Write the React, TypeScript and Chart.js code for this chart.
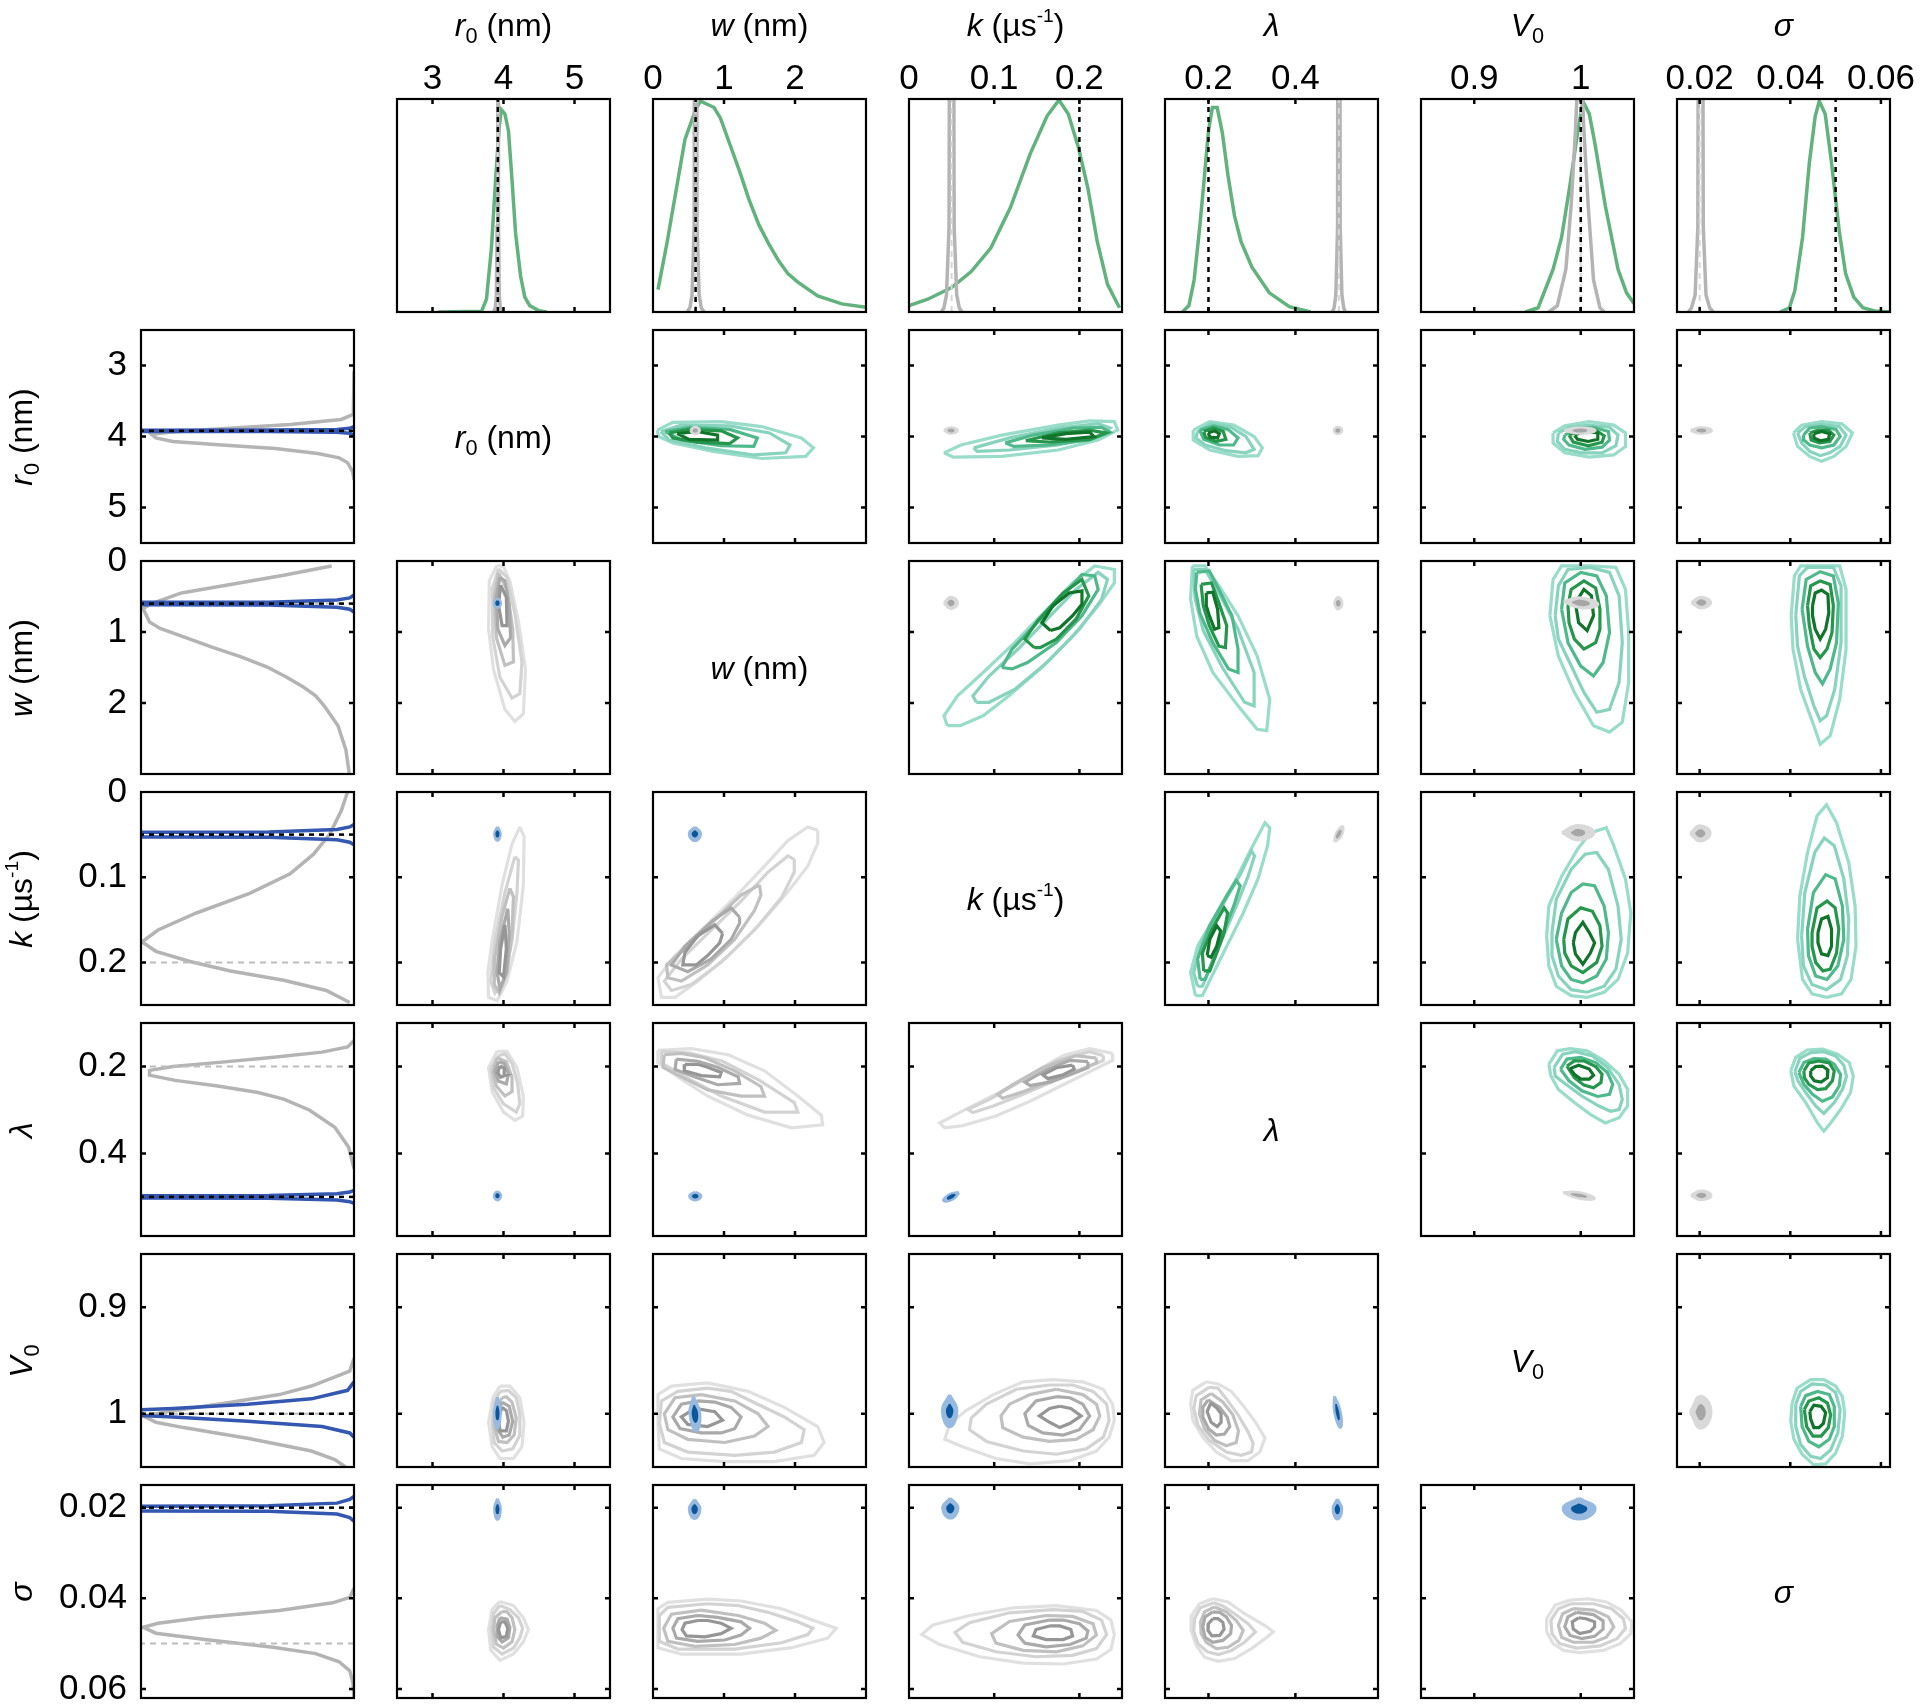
import React, { useEffect, useMemo, useRef } from 'react';
import { Chart, registerables } from 'chart.js';

Chart.register(...registerables);

type Pt = [number, number];

const FONT = "'Liberation Sans', Arial, Helvetica, sans-serif";

/* ---------------- axes ---------------- */
const AXIS_MIN = [2.5, 0, 0, 0.1, 0.85, 0.015];
const AXIS_MAX = [5.5, 3, 0.25, 0.59, 1.05, 0.062];
const TICK_VALUES = [[3, 4, 5], [0, 1, 2], [0, 0.1, 0.2], [0.2, 0.4], [0.9, 1], [0.02, 0.04, 0.06]];
const TICK_LABELS = [['3', '4', '5'], ['0', '1', '2'], ['0', '0.1', '0.2'], ['0.2', '0.4'], ['0.9', '1'], ['0.02', '0.04', '0.06']];

/* true values marked by dotted / dashed lines */
const TRUE_GREEN = [3.92, 0.6, 0.2, 0.2, 1.0, 0.05];
const TRUE_BLUE = [3.92, 0.6, 0.05, 0.5, 1.0, 0.02];

/* ---------------- 1D marginals: [value, density] ---------------- */
const MARG_WIDE_R0: Pt[] = [[3.08, 0], [3.69, 0.003], [3.76, 0.06], [3.83, 0.3], [3.9, 0.68], [3.94, 0.87], [3.97, 0.95], [4.02, 0.93], [4.07, 0.85], [4.12, 0.62], [4.17, 0.37], [4.24, 0.17], [4.3, 0.07], [4.37, 0.03], [4.5, 0.006], [4.61, 0]];
const MARG_WIDE_W: Pt[] = [[0.07, 0.105], [0.2, 0.33], [0.33, 0.58], [0.45, 0.81], [0.6, 0.95], [0.67, 0.99], [0.86, 0.96], [0.95, 0.91], [1.08, 0.79], [1.22, 0.66], [1.35, 0.53], [1.49, 0.41], [1.63, 0.32], [1.77, 0.24], [1.9, 0.18], [2.04, 0.14], [2.32, 0.075], [2.66, 0.038], [3.0, 0.022]];
const MARG_WIDE_K: Pt[] = [[0, 0.03], [0.022, 0.06], [0.05, 0.115], [0.073, 0.19], [0.096, 0.3], [0.119, 0.49], [0.142, 0.74], [0.162, 0.92], [0.176, 0.995], [0.187, 0.93], [0.199, 0.77], [0.21, 0.58], [0.221, 0.33], [0.233, 0.13], [0.247, 0.02]];
const MARG_WIDE_L: Pt[] = [[0.14, 0], [0.155, 0.03], [0.167, 0.15], [0.18, 0.4], [0.19, 0.62], [0.2, 0.85], [0.209, 0.96], [0.22, 0.96], [0.232, 0.84], [0.245, 0.64], [0.26, 0.45], [0.275, 0.33], [0.3, 0.21], [0.34, 0.09], [0.386, 0.025], [0.435, 0]];
const MARG_WIDE_V: Pt[] = [[0.948, 0], [0.96, 0.02], [0.974, 0.2], [0.982, 0.35], [0.99, 0.6], [0.997, 0.84], [1.002, 0.99], [1.008, 0.93], [1.013, 0.8], [1.023, 0.5], [1.035, 0.2], [1.043, 0.09], [1.05, 0.04]];
const MARG_WIDE_S: Pt[] = [[0.0378, 0], [0.0398, 0.02], [0.041, 0.1], [0.0427, 0.35], [0.0442, 0.7], [0.0455, 0.92], [0.0464, 0.99], [0.0477, 0.93], [0.0491, 0.7], [0.0508, 0.38], [0.0522, 0.18], [0.054, 0.07], [0.056, 0.02], [0.0586, 0.005], [0.062, 0]];

const MARG_NARROW_R0: Pt[] = [[3.86, 0], [3.885, 0.02], [3.9, 0.08], [3.91, 0.4], [3.92, 6], [3.93, 0.4], [3.94, 0.08], [3.955, 0.02], [3.98, 0]];
const MARG_NARROW_W: Pt[] = [[0.48, 0], [0.52, 0.02], [0.55, 0.08], [0.58, 0.4], [0.6, 6], [0.62, 0.4], [0.65, 0.08], [0.68, 0.02], [0.72, 0]];
const MARG_NARROW_K: Pt[] = [[0.038, 0], [0.041, 0.02], [0.044, 0.08], [0.047, 0.4], [0.05, 6], [0.053, 0.4], [0.056, 0.08], [0.059, 0.02], [0.062, 0]];
const MARG_NARROW_L: Pt[] = [[0.485, 0], [0.489, 0.02], [0.493, 0.08], [0.497, 0.4], [0.5, 6], [0.503, 0.4], [0.507, 0.08], [0.511, 0.02], [0.515, 0]];
const MARG_NARROW_V: Pt[] = [[0.97, 0], [0.978, 0.03], [0.986, 0.2], [0.991, 0.5], [0.995, 0.85], [0.999, 1.3], [1.003, 0.85], [1.007, 0.5], [1.012, 0.15], [1.018, 0.02], [1.022, 0]];
const MARG_NARROW_S: Pt[] = [[0.0175, 0], [0.0182, 0.02], [0.019, 0.08], [0.0196, 0.4], [0.0202, 6], [0.0208, 0.4], [0.0214, 0.08], [0.0222, 0.02], [0.023, 0]];

const MARG_WIDE = [MARG_WIDE_R0, MARG_WIDE_W, MARG_WIDE_K, MARG_WIDE_L, MARG_WIDE_V, MARG_WIDE_S];
const MARG_NARROW = [MARG_NARROW_R0, MARG_NARROW_W, MARG_NARROW_K, MARG_NARROW_L, MARG_NARROW_V, MARG_NARROW_S];

/* ---------------- 2D contours of the wide posterior: [colParam, rowParam], outer -> inner ---------------- */
const WIDE_R0_W: Pt[][] = [
  [[0.06, 3.91], [0.28, 3.8], [0.96, 3.79], [1.53, 3.86], [2.09, 4.02], [2.26, 4.16], [2.15, 4.28], [1.53, 4.31], [0.85, 4.21], [0.28, 4.09], [0.08, 4.0]],
  [[0.11, 3.93], [0.4, 3.84], [1.08, 3.85], [1.64, 3.95], [1.93, 4.12], [1.87, 4.23], [1.42, 4.26], [0.74, 4.16], [0.23, 4.05]],
  [[0.17, 3.93], [0.51, 3.87], [1.08, 3.9], [1.47, 4.02], [1.42, 4.14], [0.96, 4.13], [0.4, 4.05]],
  [[0.23, 3.95], [0.51, 3.9], [0.96, 3.92], [1.19, 4.02], [1.08, 4.1], [0.62, 4.08], [0.28, 4.02]],
  [[0.34, 3.96], [0.62, 3.93], [0.91, 3.98], [0.91, 4.05], [0.51, 4.04]],
];
const WIDE_R0_K: Pt[][] = [
  [[0.041, 4.23], [0.061, 4.12], [0.109, 3.98], [0.175, 3.84], [0.212, 3.78], [0.241, 3.79], [0.245, 3.91], [0.222, 4.05], [0.175, 4.19], [0.109, 4.28], [0.052, 4.29]],
  [[0.076, 4.16], [0.118, 4.02], [0.175, 3.88], [0.222, 3.82], [0.236, 3.88], [0.222, 4.0], [0.175, 4.12], [0.118, 4.19], [0.08, 4.21]],
  [[0.113, 4.09], [0.146, 3.98], [0.193, 3.88], [0.226, 3.87], [0.236, 3.94], [0.212, 4.05], [0.165, 4.12], [0.123, 4.14]],
  [[0.137, 4.06], [0.175, 3.95], [0.212, 3.91], [0.231, 3.95], [0.212, 4.04], [0.165, 4.08]],
  [[0.156, 4.02], [0.184, 3.96], [0.212, 3.94], [0.217, 4.0], [0.184, 4.04]],
];
const WIDE_R0_L: Pt[][] = [
  [[0.165, 3.91], [0.203, 3.79], [0.258, 3.84], [0.305, 4.0], [0.324, 4.16], [0.314, 4.27], [0.268, 4.28], [0.203, 4.19], [0.165, 4.05]],
  [[0.175, 3.93], [0.206, 3.82], [0.249, 3.86], [0.286, 4.0], [0.305, 4.18], [0.286, 4.23], [0.24, 4.2], [0.193, 4.12], [0.171, 4.02]],
  [[0.18, 3.91], [0.212, 3.85], [0.245, 3.9], [0.268, 4.02], [0.258, 4.12], [0.225, 4.12], [0.189, 4.04]],
  [[0.189, 3.93], [0.212, 3.88], [0.234, 3.93], [0.24, 4.04], [0.217, 4.07], [0.193, 4.01]],
  [[0.199, 3.95], [0.214, 3.92], [0.225, 3.96], [0.221, 4.02], [0.204, 4.01]],
];
const WIDE_R0_V: Pt[][] = [
  [[0.974, 3.95], [0.985, 3.85], [1.008, 3.79], [1.031, 3.84], [1.042, 3.95], [1.042, 4.14], [1.031, 4.26], [1.008, 4.29], [0.985, 4.23], [0.974, 4.09]],
  [[0.979, 3.95], [0.989, 3.87], [1.008, 3.84], [1.027, 3.87], [1.035, 3.98], [1.033, 4.13], [1.02, 4.23], [1.001, 4.23], [0.985, 4.18], [0.978, 4.07]],
  [[0.985, 3.98], [0.997, 3.88], [1.012, 3.87], [1.026, 3.93], [1.027, 4.05], [1.02, 4.15], [1.004, 4.18], [0.989, 4.12], [0.984, 4.04]],
  [[0.989, 3.98], [1.001, 3.91], [1.014, 3.91], [1.022, 3.99], [1.02, 4.08], [1.007, 4.13], [0.993, 4.08]],
  [[0.994, 3.98], [1.004, 3.93], [1.016, 3.95], [1.016, 4.04], [1.007, 4.07], [0.997, 4.04]],
];
const WIDE_R0_S: Pt[][] = [
  [[0.0407, 3.95], [0.0425, 3.84], [0.0469, 3.79], [0.0514, 3.82], [0.0537, 3.95], [0.0523, 4.14], [0.0496, 4.28], [0.0469, 4.35], [0.0443, 4.28], [0.0416, 4.14]],
  [[0.0416, 3.95], [0.0434, 3.86], [0.0469, 3.83], [0.0508, 3.86], [0.0523, 3.98], [0.051, 4.14], [0.0487, 4.23], [0.0466, 4.27], [0.0443, 4.21], [0.0425, 4.09]],
  [[0.0429, 3.98], [0.0443, 3.88], [0.0469, 3.86], [0.0501, 3.9], [0.051, 4.0], [0.0496, 4.12], [0.0469, 4.16], [0.0443, 4.12], [0.043, 4.05]],
  [[0.0443, 3.95], [0.0461, 3.91], [0.0484, 3.91], [0.0496, 3.98], [0.0487, 4.07], [0.0464, 4.09], [0.0446, 4.05]],
  [[0.0452, 3.96], [0.0469, 3.93], [0.0487, 3.96], [0.0484, 4.04], [0.0466, 4.06], [0.0452, 4.02]],
];
const WIDE_W_K: Pt[][] = [
  [[0.045, 2.32], [0.041, 2.18], [0.057, 1.9], [0.087, 1.57], [0.124, 1.15], [0.162, 0.68], [0.192, 0.31], [0.218, 0.07], [0.241, 0.12], [0.241, 0.31], [0.222, 0.63], [0.192, 1.06], [0.154, 1.52], [0.117, 1.9], [0.087, 2.18], [0.06, 2.32]],
  [[0.079, 1.99], [0.075, 1.9], [0.094, 1.62], [0.128, 1.24], [0.162, 0.82], [0.196, 0.4], [0.222, 0.16], [0.233, 0.26], [0.226, 0.54], [0.2, 0.96], [0.162, 1.43], [0.124, 1.81], [0.094, 1.99]],
  [[0.109, 1.5], [0.121, 1.24], [0.147, 0.91], [0.177, 0.54], [0.203, 0.19], [0.218, 0.21], [0.222, 0.4], [0.203, 0.77], [0.173, 1.15], [0.139, 1.43], [0.121, 1.52]],
  [[0.147, 1.22], [0.136, 1.1], [0.151, 0.84], [0.181, 0.45], [0.203, 0.26], [0.211, 0.49], [0.196, 0.82], [0.173, 1.1], [0.154, 1.22]],
  [[0.166, 0.98], [0.156, 0.87], [0.169, 0.63], [0.188, 0.45], [0.203, 0.42], [0.203, 0.61], [0.192, 0.77], [0.177, 0.94]],
];
const WIDE_W_L: Pt[][] = [
  [[0.163, 0.07], [0.192, 0.07], [0.224, 0.35], [0.268, 0.77], [0.312, 1.34], [0.341, 1.95], [0.334, 2.39], [0.312, 2.37], [0.268, 2.04], [0.21, 1.57], [0.173, 1.06], [0.159, 0.54]],
  [[0.166, 0.12], [0.192, 0.12], [0.224, 0.45], [0.268, 0.96], [0.305, 1.57], [0.305, 2.04], [0.283, 1.99], [0.232, 1.5], [0.188, 0.98], [0.169, 0.52]],
  [[0.173, 0.16], [0.202, 0.14], [0.224, 0.4], [0.254, 0.77], [0.268, 1.24], [0.268, 1.57], [0.246, 1.52], [0.21, 1.15], [0.18, 0.73], [0.17, 0.4]],
  [[0.183, 0.33], [0.207, 0.31], [0.224, 0.59], [0.242, 0.91], [0.239, 1.22], [0.224, 1.2], [0.202, 0.91], [0.188, 0.63]],
  [[0.195, 0.45], [0.21, 0.44], [0.221, 0.68], [0.224, 0.94], [0.214, 0.96], [0.202, 0.77], [0.195, 0.63]],
];
const WIDE_W_V: Pt[][] = [
  [[0.971, 0.77], [0.974, 0.26], [0.982, 0.07], [1.009, 0.07], [1.033, 0.09], [1.042, 0.4], [1.045, 1.01], [1.045, 1.71], [1.039, 2.27], [1.027, 2.41], [1.012, 2.32], [0.994, 1.85], [0.979, 1.34]],
  [[0.976, 0.77], [0.979, 0.35], [0.988, 0.12], [1.009, 0.09], [1.027, 0.16], [1.036, 0.49], [1.039, 1.15], [1.036, 1.71], [1.027, 2.09], [1.015, 2.13], [1.003, 1.85], [0.988, 1.38], [0.979, 1.1]],
  [[0.982, 0.68], [0.985, 0.31], [1.0, 0.16], [1.015, 0.21], [1.024, 0.49], [1.027, 1.01], [1.021, 1.43], [1.012, 1.62], [1.0, 1.48], [0.988, 1.15]],
  [[0.988, 0.63], [0.991, 0.4], [1.003, 0.28], [1.014, 0.38], [1.018, 0.68], [1.018, 0.96], [1.014, 1.15], [1.003, 1.24], [0.994, 1.1], [0.989, 0.87]],
  [[0.995, 0.59], [1.003, 0.4], [1.01, 0.49], [1.012, 0.77], [1.006, 0.98], [0.998, 0.87]],
];
const WIDE_W_S: Pt[][] = [
  [[0.0402, 0.77], [0.0409, 0.21], [0.0423, 0.07], [0.0509, 0.07], [0.0523, 0.4], [0.0523, 1.24], [0.0509, 1.95], [0.0488, 2.46], [0.0466, 2.58], [0.0452, 2.32], [0.0423, 1.81], [0.0406, 1.24]],
  [[0.0412, 0.77], [0.042, 0.21], [0.0438, 0.09], [0.0495, 0.09], [0.0512, 0.35], [0.0512, 1.15], [0.0498, 1.81], [0.048, 2.18], [0.0466, 2.25], [0.0452, 2.04], [0.0431, 1.62], [0.0416, 1.2]],
  [[0.0426, 0.68], [0.0435, 0.26], [0.0466, 0.15], [0.0495, 0.21], [0.0506, 0.59], [0.0502, 1.15], [0.0488, 1.52], [0.0471, 1.73], [0.0455, 1.57], [0.0438, 1.2]],
  [[0.0438, 0.63], [0.0445, 0.35], [0.0466, 0.28], [0.0488, 0.33], [0.0495, 0.63], [0.0492, 1.01], [0.0481, 1.24], [0.0466, 1.36], [0.0452, 1.24], [0.0442, 0.91]],
  [[0.0449, 0.63], [0.0455, 0.45], [0.0469, 0.41], [0.0483, 0.47], [0.0485, 0.73], [0.0478, 0.96], [0.0466, 1.1], [0.0455, 0.96], [0.0449, 0.77]],
];
const WIDE_K_L: Pt[][] = [
  [[0.17, 0.239], [0.159, 0.212], [0.175, 0.181], [0.219, 0.142], [0.264, 0.102], [0.302, 0.063], [0.33, 0.036], [0.341, 0.042], [0.336, 0.063], [0.314, 0.102], [0.28, 0.142], [0.242, 0.181], [0.208, 0.216], [0.186, 0.239]],
  [[0.175, 0.228], [0.166, 0.212], [0.186, 0.173], [0.231, 0.134], [0.275, 0.095], [0.299, 0.069], [0.306, 0.075], [0.291, 0.099], [0.264, 0.134], [0.231, 0.173], [0.203, 0.208], [0.186, 0.228]],
  [[0.181, 0.22], [0.175, 0.196], [0.203, 0.157], [0.242, 0.122], [0.264, 0.104], [0.273, 0.11], [0.258, 0.134], [0.231, 0.169], [0.208, 0.2], [0.192, 0.22]],
  [[0.189, 0.21], [0.186, 0.189], [0.208, 0.161], [0.236, 0.136], [0.244, 0.142], [0.236, 0.165], [0.219, 0.189], [0.203, 0.21]],
  [[0.197, 0.192], [0.203, 0.173], [0.219, 0.157], [0.228, 0.163], [0.219, 0.181], [0.206, 0.194]],
];
const WIDE_K_V: Pt[][] = [
  [[0.968, 0.169], [0.97, 0.134], [0.982, 0.099], [0.997, 0.067], [1.009, 0.048], [1.024, 0.042], [1.031, 0.063], [1.042, 0.102], [1.047, 0.142], [1.044, 0.189], [1.035, 0.22], [1.022, 0.235], [1.006, 0.241], [0.991, 0.239], [0.977, 0.228], [0.97, 0.204]],
  [[0.973, 0.165], [0.977, 0.126], [0.991, 0.091], [1.004, 0.073], [1.015, 0.071], [1.026, 0.091], [1.035, 0.134], [1.038, 0.173], [1.033, 0.208], [1.022, 0.228], [1.006, 0.235], [0.991, 0.232], [0.979, 0.216], [0.973, 0.192]],
  [[0.977, 0.173], [0.982, 0.142], [0.991, 0.118], [1.002, 0.108], [1.013, 0.11], [1.022, 0.134], [1.026, 0.165], [1.024, 0.196], [1.015, 0.216], [1.002, 0.224], [0.991, 0.22], [0.982, 0.204]],
  [[0.984, 0.173], [0.988, 0.149], [1.0, 0.136], [1.011, 0.14], [1.018, 0.157], [1.02, 0.181], [1.015, 0.2], [1.002, 0.212], [0.991, 0.204], [0.985, 0.189]],
  [[0.993, 0.177], [0.995, 0.165], [1.002, 0.153], [1.008, 0.165], [1.013, 0.177], [1.009, 0.189], [1.002, 0.202], [0.995, 0.19]],
];
const WIDE_K_S: Pt[][] = [
  [[0.0416, 0.173], [0.0421, 0.122], [0.0438, 0.071], [0.0459, 0.028], [0.048, 0.015], [0.0502, 0.036], [0.0529, 0.083], [0.0543, 0.134], [0.0545, 0.181], [0.0534, 0.22], [0.0513, 0.237], [0.048, 0.241], [0.0448, 0.237], [0.0427, 0.22]],
  [[0.0425, 0.169], [0.0432, 0.118], [0.0454, 0.071], [0.0475, 0.054], [0.0497, 0.063], [0.0518, 0.102], [0.0529, 0.149], [0.0526, 0.192], [0.0511, 0.22], [0.048, 0.232], [0.0448, 0.226], [0.0429, 0.204]],
  [[0.0438, 0.161], [0.0451, 0.118], [0.0478, 0.097], [0.0499, 0.102], [0.0515, 0.134], [0.0518, 0.173], [0.0505, 0.204], [0.0481, 0.22], [0.0456, 0.216], [0.044, 0.192]],
  [[0.0448, 0.165], [0.0459, 0.136], [0.0481, 0.128], [0.0499, 0.136], [0.0507, 0.161], [0.0502, 0.189], [0.0488, 0.208], [0.0472, 0.21], [0.0456, 0.2], [0.0448, 0.181]],
  [[0.0461, 0.165], [0.0469, 0.149], [0.0483, 0.146], [0.0491, 0.161], [0.0491, 0.181], [0.0483, 0.192], [0.0469, 0.19], [0.0461, 0.177]],
];
const WIDE_L_V: Pt[][] = [
  [[0.97, 0.195], [0.978, 0.164], [0.99, 0.159], [1.006, 0.164], [1.022, 0.187], [1.036, 0.218], [1.044, 0.253], [1.044, 0.291], [1.036, 0.318], [1.023, 0.33], [1.009, 0.31], [0.994, 0.283], [0.979, 0.253], [0.972, 0.222]],
  [[0.975, 0.202], [0.983, 0.172], [0.995, 0.166], [1.011, 0.176], [1.025, 0.202], [1.036, 0.241], [1.039, 0.276], [1.036, 0.299], [1.028, 0.303], [1.017, 0.291], [1.001, 0.268], [0.986, 0.241], [0.976, 0.222]],
  [[0.981, 0.206], [0.987, 0.183], [1.0, 0.179], [1.014, 0.191], [1.025, 0.214], [1.03, 0.241], [1.027, 0.264], [1.016, 0.269], [1.001, 0.256], [0.989, 0.233]],
  [[0.987, 0.199], [0.994, 0.187], [1.003, 0.187], [1.014, 0.2], [1.02, 0.218], [1.019, 0.237], [1.012, 0.249], [1.003, 0.243], [0.994, 0.226]],
  [[0.99, 0.205], [0.998, 0.197], [1.008, 0.206], [1.012, 0.22], [1.008, 0.229], [1.0, 0.229], [0.994, 0.218]],
];
const WIDE_L_S: Pt[][] = [
  [[0.0401, 0.21], [0.0412, 0.179], [0.0437, 0.162], [0.0471, 0.16], [0.0504, 0.172], [0.053, 0.191], [0.0539, 0.222], [0.0533, 0.26], [0.0511, 0.299], [0.0489, 0.33], [0.0474, 0.349], [0.046, 0.33], [0.0434, 0.283], [0.0408, 0.245]],
  [[0.041, 0.212], [0.0421, 0.181], [0.0445, 0.168], [0.0474, 0.166], [0.05, 0.176], [0.0518, 0.197], [0.0524, 0.223], [0.0515, 0.253], [0.0497, 0.283], [0.0474, 0.308], [0.0456, 0.291], [0.0434, 0.26], [0.0417, 0.233]],
  [[0.0419, 0.214], [0.043, 0.191], [0.0452, 0.182], [0.0478, 0.183], [0.0497, 0.195], [0.0511, 0.218], [0.0508, 0.245], [0.0493, 0.27], [0.0471, 0.28], [0.0449, 0.264], [0.043, 0.241]],
  [[0.043, 0.21], [0.0441, 0.192], [0.0463, 0.187], [0.0486, 0.192], [0.0497, 0.21], [0.0493, 0.233], [0.0478, 0.251], [0.046, 0.253], [0.0441, 0.241], [0.0431, 0.226]],
  [[0.0445, 0.21], [0.0456, 0.2], [0.0471, 0.199], [0.0483, 0.208], [0.0482, 0.226], [0.0468, 0.236], [0.0453, 0.233], [0.0445, 0.222]],
];
const WIDE_V_S: Pt[][] = [
  [[0.0404, 0.99], [0.0415, 0.976], [0.0445, 0.968], [0.0474, 0.968], [0.05, 0.974], [0.0515, 0.984], [0.052, 0.999], [0.0515, 1.021], [0.05, 1.037], [0.0478, 1.047], [0.0452, 1.048], [0.0426, 1.038], [0.0408, 1.024], [0.0401, 1.007]],
  [[0.0412, 0.991], [0.0423, 0.979], [0.0448, 0.972], [0.0478, 0.973], [0.05, 0.98], [0.051, 0.996], [0.0505, 1.018], [0.0489, 1.034], [0.0467, 1.042], [0.0445, 1.04], [0.0423, 1.029], [0.0412, 1.012]],
  [[0.0423, 0.993], [0.0434, 0.983], [0.046, 0.979], [0.0486, 0.982], [0.0497, 0.993], [0.0497, 1.012], [0.0486, 1.024], [0.0463, 1.031], [0.0441, 1.026], [0.0426, 1.012]],
  [[0.0431, 0.996], [0.0441, 0.988], [0.0463, 0.985], [0.0482, 0.99], [0.0489, 1.001], [0.0484, 1.013], [0.0468, 1.021], [0.045, 1.021], [0.0436, 1.012]],
  [[0.0443, 0.998], [0.0452, 0.992], [0.0468, 0.993], [0.0478, 0.999], [0.0473, 1.009], [0.0463, 1.013], [0.0452, 1.013], [0.0445, 1.005]],
];

/* ---------------- narrow posterior blobs: [outer, inner] extreme points ---------------- */
const DOT_R0_W: Pt[][] = [[[0.525, 3.915], [0.59, 3.87], [0.655, 3.915], [0.59, 3.96]], [[0.56, 3.915], [0.59, 3.895], [0.62, 3.915], [0.59, 3.935]]];
const DOT_R0_K: Pt[][] = [[[0.041, 3.915], [0.049, 3.875], [0.057, 3.915], [0.049, 3.955]], [[0.0455, 3.915], [0.049, 3.897], [0.0525, 3.915], [0.049, 3.933]]];
const DOT_R0_L: Pt[][] = [[[0.487, 3.915], [0.497, 3.87], [0.507, 3.915], [0.497, 3.96]], [[0.4925, 3.915], [0.497, 3.895], [0.5015, 3.915], [0.497, 3.935]]];
const DOT_R0_V: Pt[][] = [[[0.9845, 3.915], [0.999, 3.875], [1.0135, 3.915], [0.999, 3.955]], [[0.9925, 3.915], [0.999, 3.897], [1.0055, 3.915], [0.999, 3.933]]];
const DOT_R0_S: Pt[][] = [[[0.018, 3.915], [0.0203, 3.875], [0.0226, 3.915], [0.0203, 3.955]], [[0.0193, 3.915], [0.0203, 3.897], [0.0213, 3.915], [0.0203, 3.933]]];
const DOT_W_K: Pt[][] = [[[0.041, 0.59], [0.049, 0.51], [0.057, 0.59], [0.049, 0.67]], [[0.0455, 0.59], [0.049, 0.555], [0.0525, 0.59], [0.049, 0.625]]];
const DOT_W_L: Pt[][] = [[[0.489, 0.595], [0.498, 0.515], [0.507, 0.595], [0.498, 0.675]], [[0.494, 0.595], [0.498, 0.56], [0.502, 0.595], [0.498, 0.63]]];
const DOT_W_V: Pt[][] = [[[0.984, 0.57], [1.0, 0.52], [1.016, 0.61], [1.0, 0.66]], [[0.992, 0.58], [1.0, 0.555], [1.008, 0.6], [1.0, 0.625]]];
const DOT_W_S: Pt[][] = [[[0.0182, 0.586], [0.0203, 0.511], [0.0224, 0.586], [0.0203, 0.661]], [[0.0193, 0.586], [0.0203, 0.551], [0.0213, 0.586], [0.0203, 0.621]]];
const DOT_K_L: Pt[][] = [[[0.4899, 0.0587], [0.4949, 0.0477], [0.5087, 0.0407], [0.5048, 0.0516]], [[0.4945, 0.0542], [0.4972, 0.0487], [0.504, 0.0452], [0.5015, 0.0507]]];
const DOT_K_V: Pt[][] = [[[0.9823, 0.0477], [0.9973, 0.0392], [1.0123, 0.0477], [0.9973, 0.0562]], [[0.991, 0.0477], [0.9973, 0.0442], [1.0036, 0.0477], [0.9973, 0.0512]]];
const DOT_K_S: Pt[][] = [[[0.0179, 0.0485], [0.0201, 0.0395], [0.0223, 0.0485], [0.0201, 0.0575]], [[0.0191, 0.0485], [0.0201, 0.0445], [0.0211, 0.0485], [0.0201, 0.0525]]];
const DOT_L_V: Pt[][] = [[[0.9835, 0.4897], [0.999, 0.4905], [1.0128, 0.5035], [0.9975, 0.5027]], [[0.991, 0.4932], [0.9985, 0.4945], [1.0055, 0.5], [0.998, 0.4987]]];
const DOT_L_S: Pt[][] = [[[0.0181, 0.4966], [0.0203, 0.4866], [0.0225, 0.4966], [0.0203, 0.5066]], [[0.0193, 0.4966], [0.0203, 0.4921], [0.0213, 0.4966], [0.0203, 0.5011]]];
const DOT_V_S: Pt[][] = [[[0.0179, 0.9985], [0.0202, 0.9835], [0.0225, 0.9985], [0.0202, 1.0135]], [[0.0192, 0.9985], [0.0202, 0.9915], [0.0212, 0.9985], [0.0202, 1.0055]]];

/* pair table: i = row parameter, j = column parameter of the upper-triangle panel */
const PAIRS = [
  { i: 0, j: 1, wide: WIDE_R0_W, dot: DOT_R0_W },
  { i: 0, j: 2, wide: WIDE_R0_K, dot: DOT_R0_K },
  { i: 0, j: 3, wide: WIDE_R0_L, dot: DOT_R0_L },
  { i: 0, j: 4, wide: WIDE_R0_V, dot: DOT_R0_V },
  { i: 0, j: 5, wide: WIDE_R0_S, dot: DOT_R0_S },
  { i: 1, j: 2, wide: WIDE_W_K, dot: DOT_W_K },
  { i: 1, j: 3, wide: WIDE_W_L, dot: DOT_W_L },
  { i: 1, j: 4, wide: WIDE_W_V, dot: DOT_W_V },
  { i: 1, j: 5, wide: WIDE_W_S, dot: DOT_W_S },
  { i: 2, j: 3, wide: WIDE_K_L, dot: DOT_K_L },
  { i: 2, j: 4, wide: WIDE_K_V, dot: DOT_K_V },
  { i: 2, j: 5, wide: WIDE_K_S, dot: DOT_K_S },
  { i: 3, j: 4, wide: WIDE_L_V, dot: DOT_L_V },
  { i: 3, j: 5, wide: WIDE_L_S, dot: DOT_L_S },
  { i: 4, j: 5, wide: WIDE_V_S, dot: DOT_V_S },
];

/* ---------------- styles ---------------- */
const GREEN_LEVELS = ['#98dcc9', '#88d3be', '#4fb98c', '#25964c', '#11742b'];
const GREY_LEVELS = ['#e0e0e0', '#d3d3d3', '#c0c0c0', '#aaaaaa', '#969696'];
const GREY_DOT = ['#d9d9d9', '#a6a6a6'];
const BLUE_DOT = ['#98b9e0', '#0b579b'];
const GREEN_LINE = '#62b27e';
const GREY_LINE = '#b4b4b4';
const BLUE_LINE = '#3457b2';

const PANEL = 213;
const colLeft = (c: number) => 141 + 256 * c;
const rowTop = (r: number) => 99 + 231 * r;
const TOP_CANVAS_Y = 40;
const LEFT_PAD = 40;

/* ---------------- helpers ---------------- */
const closed = (pts: Pt[]): Pt[] => [...pts, pts[0]];
const swap = (pts: Pt[]): Pt[] => pts.map(([a, b]) => [b, a] as Pt);

function curve(pts: Pt[], color: string, width: number, extra: any = {}) {
  return {
    data: pts.map(([x, y]) => ({ x, y })),
    showLine: true,
    borderColor: color,
    backgroundColor: color,
    borderWidth: width,
    pointRadius: 0,
    pointHoverRadius: 0,
    pointHitRadius: 0,
    tension: 0,
    fill: false,
    clip: 0,
    ...extra,
  };
}

function blob(pts: Pt[], color: string, border: number) {
  return curve(closed(pts), color, border, { fill: 'shape', tension: 0.5 });
}

function framePlugin(xTicks: number[], yTicks: number[]) {
  return {
    id: 'panelFrame',
    afterDatasetsDraw(chart: any) {
      const { ctx, chartArea: a } = chart;
      const xs = chart.scales.x;
      const ys = chart.scales.y;
      ctx.save();
      ctx.strokeStyle = '#000';
      ctx.lineWidth = 2.5;
      ctx.beginPath();
      xTicks.forEach((v) => {
        const p = xs.getPixelForValue(v);
        if (p <= a.left + 2 || p >= a.right - 2) return;
        ctx.moveTo(p, a.top);
        ctx.lineTo(p, a.top + 5);
        ctx.moveTo(p, a.bottom);
        ctx.lineTo(p, a.bottom - 5);
      });
      yTicks.forEach((v) => {
        const p = ys.getPixelForValue(v);
        if (p <= a.top + 2 || p >= a.bottom - 2) return;
        ctx.moveTo(a.left, p);
        ctx.lineTo(a.left + 5, p);
        ctx.moveTo(a.right, p);
        ctx.lineTo(a.right - 5, p);
      });
      ctx.stroke();
      ctx.lineWidth = 2.2;
      ctx.strokeRect(a.left, a.top, a.right - a.left, a.bottom - a.top);
      ctx.restore();
    },
  };
}

const hiddenAxis = (min: number, max: number, reverse: boolean) => ({
  type: 'linear', min, max, reverse, display: false,
});

function labelAxis(p: number, position: 'top' | 'left', size: (s: any) => void) {
  return {
    type: 'linear',
    min: AXIS_MIN[p],
    max: AXIS_MAX[p],
    reverse: position === 'left',
    position,
    display: true,
    grid: { display: false, drawTicks: false },
    border: { display: false },
    ticks: {
      autoSkip: false,
      maxRotation: 0,
      minRotation: 0,
      padding: position === 'top' ? -1 : 14,
      color: '#000',
      font: { family: FONT, size: 35 },
      callback: (_v: any, idx: number) => TICK_LABELS[p][idx],
    },
    afterBuildTicks: (s: any) => {
      s.ticks = TICK_VALUES[p].map((value) => ({ value }));
    },
    afterFit: size,
  };
}

function makeConfig(datasets: any[], padding: any, xScale: any, yScale: any, xTicks: number[], yTicks: number[]) {
  return {
    type: 'scatter',
    data: { datasets: datasets.slice().reverse() },
    options: {
      animation: false,
      responsive: false,
      maintainAspectRatio: false,
      events: [],
      layout: { padding },
      plugins: { legend: { display: false }, tooltip: { enabled: false } },
      scales: { x: xScale, y: yScale },
    },
    plugins: [framePlugin(xTicks, yTicks)],
  };
}

interface PanelSpec { key: string; left: number; top: number; width: number; height: number; make: () => any }

function buildPanels(): PanelSpec[] {
  const out: PanelSpec[] = [];
  // top row: marginals of the wide (green) and narrow (grey) posteriors
  for (let p = 0; p < 6; p++) {
    const axisH = rowTop(0) - TOP_CANVAS_Y;
    out.push({
      key: `top${p}`,
      left: colLeft(p + 1) - 45,
      top: TOP_CANVAS_Y,
      width: PANEL + 90,
      height: axisH + PANEL + 4,
      make: () => makeConfig(
        [
          curve(MARG_WIDE[p], GREEN_LINE, 3.5),
          curve(MARG_NARROW[p], GREY_LINE, 3.5),
          curve([[TRUE_BLUE[p], 0], [TRUE_BLUE[p], 1]], '#d6d6d6', 2, { borderDash: [6, 5] }),
          curve([[TRUE_GREEN[p], 0], [TRUE_GREEN[p], 1]], '#000', 2.5, { borderDash: [5, 5] }),
        ],
        { left: 45, right: 45, top: 0, bottom: 4 },
        labelAxis(p, 'top', (s: any) => { s.height = axisH; }),
        hiddenAxis(0, 1, false),
        TICK_VALUES[p],
        [],
      ),
    });
  }
  // left column: marginals of the wide (grey) and narrow (blue) posteriors
  for (let p = 0; p < 6; p++) {
    out.push({
      key: `left${p}`,
      left: 0,
      top: rowTop(p + 1) - LEFT_PAD,
      width: colLeft(0) + PANEL + 4,
      height: PANEL + 2 * LEFT_PAD,
      make: () => makeConfig(
        [
          curve(swap(MARG_WIDE[p]), GREY_LINE, 3.5),
          curve([[0, TRUE_GREEN[p]], [1, TRUE_GREEN[p]]], '#bdbdbd', 2, { borderDash: [6, 5] }),
          curve(swap(MARG_NARROW[p]), BLUE_LINE, 3.5),
          curve([[0, TRUE_BLUE[p]], [1, TRUE_BLUE[p]]], '#000', 2.5, { borderDash: [5, 5] }),
        ],
        { left: 0, right: 4, top: LEFT_PAD, bottom: LEFT_PAD },
        hiddenAxis(0, 1, true),
        labelAxis(p, 'left', (s: any) => { s.width = colLeft(0); }),
        [],
        TICK_VALUES[p],
      ),
    });
  }
  // pair panels
  PAIRS.forEach(({ i, j, wide, dot }) => {
    // upper triangle: green wide posterior + grey narrow blob
    out.push({
      key: `up${i}${j}`,
      left: colLeft(j + 1) - 4,
      top: rowTop(i + 1) - 4,
      width: PANEL + 8,
      height: PANEL + 8,
      make: () => makeConfig(
        [
          ...wide.map((c, l) => curve(closed(c), GREEN_LEVELS[l], 3.2)),
          blob(dot[0], GREY_DOT[0], 3),
          blob(dot[1], GREY_DOT[1], 1.5),
        ],
        4,
        hiddenAxis(AXIS_MIN[j], AXIS_MAX[j], false),
        hiddenAxis(AXIS_MIN[i], AXIS_MAX[i], true),
        TICK_VALUES[j],
        TICK_VALUES[i],
      ),
    });
    // lower triangle: grey wide posterior + blue narrow blob (transposed)
    out.push({
      key: `lo${j}${i}`,
      left: colLeft(i + 1) - 4,
      top: rowTop(j + 1) - 4,
      width: PANEL + 8,
      height: PANEL + 8,
      make: () => makeConfig(
        [
          ...wide.map((c, l) => curve(closed(swap(c)), GREY_LEVELS[l], 3.2)),
          blob(swap(dot[0]), BLUE_DOT[0], 3),
          blob(swap(dot[1]), BLUE_DOT[1], 1.5),
        ],
        4,
        hiddenAxis(AXIS_MIN[i], AXIS_MAX[i], false),
        hiddenAxis(AXIS_MIN[j], AXIS_MAX[j], true),
        TICK_VALUES[i],
        TICK_VALUES[j],
      ),
    });
  });
  return out;
}

const subStyle: React.CSSProperties = { fontSize: '0.68em', verticalAlign: '-0.3em', lineHeight: 0, fontStyle: 'normal' };
const supStyle: React.CSSProperties = { fontSize: '0.6em', verticalAlign: '0.75em', lineHeight: 0 };

const LABELS: React.ReactNode[] = [
  <><i>r</i><span style={subStyle}>0</span> (nm)</>,
  <><i>w</i> (nm)</>,
  <><i>k</i> (µs<span style={supStyle}>-1</span>)</>,
  <><i>λ</i></>,
  <><i>V</i><span style={subStyle}>0</span></>,
  <><i>σ</i></>,
];

function TextAt({ cx, cy, rotate, children }: { cx: number; cy: number; rotate?: boolean; children: React.ReactNode }) {
  return (
    <div
      style={{
        position: 'absolute',
        left: cx - 150,
        top: cy - 20,
        width: 300,
        height: 40,
        lineHeight: '40px',
        textAlign: 'center',
        fontSize: 32,
        fontFamily: FONT,
        color: '#000',
        whiteSpace: 'nowrap',
        transform: rotate ? 'rotate(-90deg)' : undefined,
      }}
    >
      {children}
    </div>
  );
}

export default function App() {
  const panels = useMemo(() => buildPanels(), []);
  const refs = useRef<(HTMLCanvasElement | null)[]>([]);

  useEffect(() => {
    const charts = panels.map((p, idx) => new Chart(refs.current[idx] as HTMLCanvasElement, p.make() as any));
    return () => charts.forEach((c) => c.destroy());
  }, [panels]);

  return (
    <div style={{ position: 'absolute', left: 0, top: 0, width: 1920, height: 1708, background: '#fff', overflow: 'hidden' }}>
      {panels.map((p, idx) => (
        <canvas
          key={p.key}
          ref={(el) => { refs.current[idx] = el; }}
          width={p.width}
          height={p.height}
          style={{ position: 'absolute', left: p.left, top: p.top, width: p.width, height: p.height }}
        />
      ))}
      {LABELS.map((lab, p) => (
        <React.Fragment key={`lab${p}`}>
          <TextAt cx={colLeft(p + 1) + PANEL / 2} cy={25}>{lab}</TextAt>
          <TextAt cx={21} cy={rowTop(p + 1) + PANEL / 2} rotate>{lab}</TextAt>
          <TextAt cx={colLeft(p + 1) + PANEL / 2} cy={rowTop(p + 1) + PANEL / 2}>{lab}</TextAt>
        </React.Fragment>
      ))}
    </div>
  );
}
